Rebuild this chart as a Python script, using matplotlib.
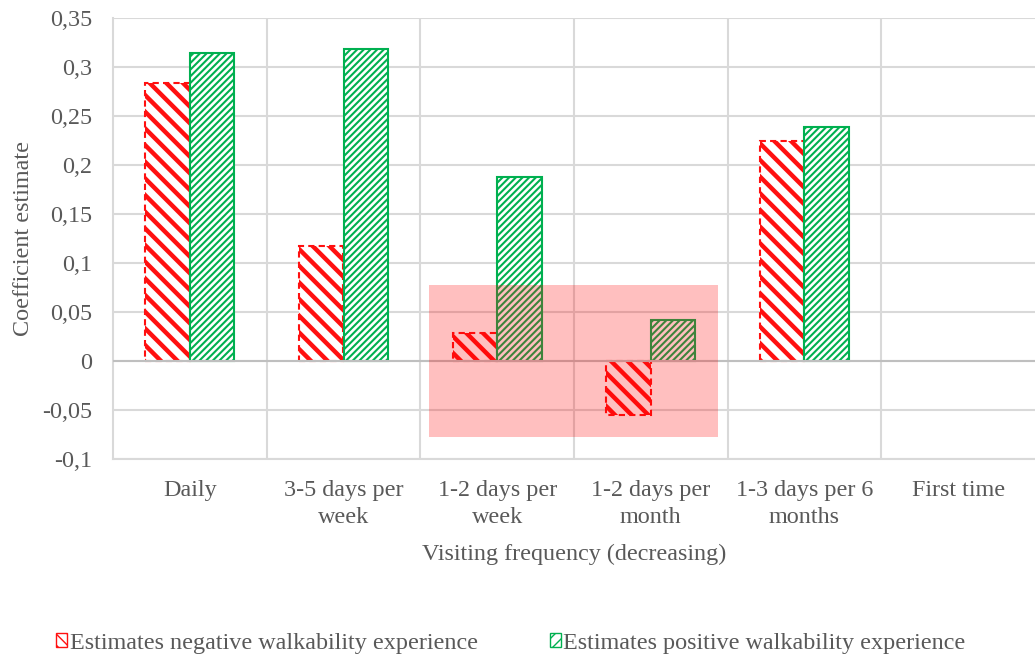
"""Coefficient estimates by visiting frequency, negative vs positive walkability."""
import numpy as np
import matplotlib
matplotlib.use("Agg")
import matplotlib.pyplot as plt
from matplotlib.patches import Patch, Rectangle

categories = ["Daily", "3-5 days per\nweek", "1-2 days per\nweek",
              "1-2 days per\nmonth", "1-3 days per 6\nmonths", "First time"]
negative = [0.284, 0.117, 0.029, -0.055, 0.224, np.nan]
positive = [0.314, 0.318, 0.188, 0.042, 0.239, np.nan]
y_ticks = [-0.1, -0.05, 0, 0.05, 0.1, 0.15, 0.2, 0.25, 0.3, 0.35]
y_tick_labels = ["-0,1", "-0,05", "0", "0,05", "0,1", "0,15", "0,2",
                 "0,25", "0,3", "0,35"]
highlight_x = (1.556, 3.436)
highlight_y = (-0.0776, 0.0776)

RED = "#FF1010"
GREEN = "#00B050"
TEXT = "#595959"
GRID = "#D9D9D9"
FS = 17.4

plt.rcParams["font.family"] = ["Liberation Serif", "DejaVu Serif"]


def _bars(ax, x, values, color, hatch, hlw, ls, lw):
    with plt.rc_context({"hatch.linewidth": hlw}):
        bars = ax.bar(x, values, width=0.29, facecolor="white",
                      edgecolor=color, hatch=hatch, linestyle=ls,
                      linewidth=lw, zorder=3)
    for b in bars:
        if hasattr(b, "set_hatch_linewidth"):
            b.set_hatch_linewidth(hlw)
    return bars


fig = plt.figure(figsize=(10.35, 6.62), dpi=100)
ax = fig.add_axes([113 / 1035, 1 - 459 / 662, 1 - 113 / 1035, 441 / 662])

x = np.arange(len(categories))
_bars(ax, x - 0.145, negative, RED, "\\\\", 3.2, (0, (3, 2)), 1.5)
_bars(ax, x + 0.145, positive, GREEN, "/////", 1.5, "-", 1.5)

ax.add_patch(Rectangle((highlight_x[0], highlight_y[0]),
                       highlight_x[1] - highlight_x[0],
                       highlight_y[1] - highlight_y[0],
                       facecolor="#FF0000", alpha=0.25, edgecolor="none",
                       zorder=5))

ax.set_xlim(-0.5, len(categories) - 0.5)
ax.set_ylim(-0.1, 0.35)
ax.set_yticks(y_ticks)
ax.set_yticklabels(y_tick_labels)
ax.set_xticks(x)
ax.set_xticklabels(categories, linespacing=1.4)
ax.set_xticks(x[:-1] + 0.5, minor=True)

ax.grid(True, axis="y", which="major", color=GRID, linewidth=1.5, zorder=0)
ax.grid(True, axis="x", which="minor", color=GRID, linewidth=1.5, zorder=0)
ax.axhline(0, color="#BFBFBF", linewidth=1.5, zorder=4)
ax.set_axisbelow(True)

for side in ["top", "right"]:
    ax.spines[side].set_visible(False)
for side in ["left", "bottom"]:
    ax.spines[side].set_color(GRID)
    ax.spines[side].set_linewidth(1.5)

ax.tick_params(axis="both", which="both", length=0, labelsize=FS,
               labelcolor=TEXT)
ax.tick_params(axis="x", pad=15)
ax.tick_params(axis="y", pad=15)

ax.set_xlabel("Visiting frequency (decreasing)", fontsize=FS, color=TEXT,
              labelpad=11)
ax.set_ylabel("Coefficient estimate", fontsize=FS, color=TEXT, labelpad=6)

with plt.rc_context({"hatch.linewidth": 2.5}):
    handles = [Patch(facecolor="white", edgecolor=RED, hatch="\\\\\\",
                     linestyle="-"),
               Patch(facecolor="white", edgecolor=GREEN, hatch="///")]
fig.legend(handles, ["Estimates negative walkability experience",
                     "Estimates positive walkability experience"],
           loc="center", bbox_to_anchor=(511 / 1035, 1 - 643 / 662),
           ncol=2, frameon=False, fontsize=FS, labelcolor=TEXT,
           handlelength=0.45, handleheight=0.55, handletextpad=0.1,
           columnspacing=3.0)

fig.savefig("out.png", dpi=100)
